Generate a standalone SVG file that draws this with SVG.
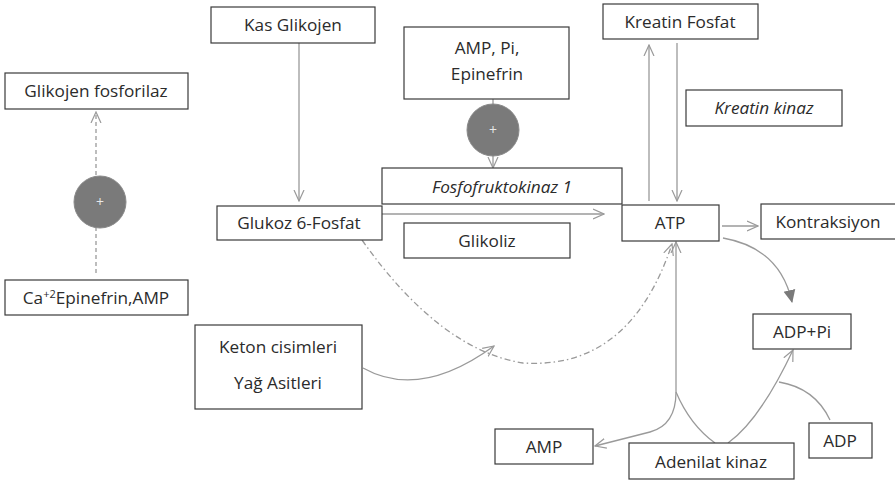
<svg xmlns="http://www.w3.org/2000/svg" width="895" height="483" viewBox="0 0 895 483">
<defs>
<style>
.box{fill:#fff;stroke:#3a3a3a;stroke-width:1.2}
.t{font-family:"Open Sans","Liberation Sans",sans-serif;font-size:17.2px;fill:#2b2b2b;text-anchor:middle}
.i{font-style:italic}
.ln{fill:none;stroke:#9a9a9a;stroke-width:1.3}
.dash{stroke-dasharray:4 3}
.dd{stroke-dasharray:6 3 1.5 3}
.circ{fill:#7a7a7a;stroke:#8a8a8a;stroke-width:1}
.plus{font-family:"Open Sans","Liberation Sans",sans-serif;font-size:14px;fill:#e8e8e8;text-anchor:middle}
</style>
<marker id="open" viewBox="0 0 12 12" refX="11" refY="6" markerWidth="12" markerHeight="12" markerUnits="userSpaceOnUse" orient="auto">
<path d="M0,1 L11,6 L0,11" fill="none" stroke="#9a9a9a" stroke-width="1.2"/>
</marker>
<marker id="fill" viewBox="0 0 12 12" refX="11" refY="6" markerWidth="13" markerHeight="13" markerUnits="userSpaceOnUse" orient="auto">
<path d="M0,0.5 L12,6 L0,11.5 Z" fill="#7a7a7a"/>
</marker>
</defs>

<g id="connectors">
<path class="ln dash" d="M96,273 L96,112" marker-end="url(#open)"/>
<path class="ln" d="M299,43 L299,201" marker-end="url(#open)"/>
<path class="ln" d="M493,99 L493,168" marker-end="url(#open)"/>
<path class="ln" d="M382,214 L604,214" marker-end="url(#open)"/>
<path class="ln" d="M649,201 L649,45" marker-end="url(#open)"/>
<path class="ln" d="M677,43 L677,201" marker-end="url(#open)"/>
<path class="ln" d="M722,226 L758,226" marker-end="url(#open)"/>
<path class="ln" d="M723,238 Q780,248 792,302" marker-end="url(#fill)"/>
<path class="ln dd" d="M362,240 Q440,350 523,363 Q630,370 672,244" marker-end="url(#open)"/>
<path class="ln" d="M363,368 Q420,400 494,346" marker-end="url(#open)"/>
<path class="ln" d="M676,392 L676,242" marker-end="url(#open)"/>
<path class="ln" d="M676,392 Q676,425 650,432 L595,446" marker-end="url(#open)"/>
<path class="ln" d="M676,392 Q690,425 715,443"/>
<path class="ln" d="M728,443 Q760,420 793,350" marker-end="url(#open)"/>
<path class="ln" d="M830,420 Q815,388 779,382"/>
</g>

<g id="glikojen-fosforilaz"><rect class="box" x="5" y="73" width="183" height="36"/><text class="t" x="96" y="97">Glikojen fosforilaz</text></g>
<g id="plus-left"><circle class="circ" cx="100" cy="202" r="26"/><text class="plus" x="100" y="207">+</text></g>
<g id="ca-epinefrin"><rect class="box" x="5" y="280" width="183" height="35"/><text class="t" x="96" y="304">Ca<tspan font-size="11" dy="-6">+2</tspan><tspan dy="6">Epinefrin,AMP</tspan></text></g>
<g id="kas-glikojen"><rect class="box" x="211" y="7" width="164" height="36"/><text class="t" x="293" y="31">Kas Glikojen</text></g>
<g id="amp-pi-epinefrin"><rect class="box" x="404" y="27" width="165" height="72"/><text class="t" x="487" y="54">AMP, Pi,</text><text class="t" x="487" y="80">Epinefrin</text></g>
<g id="plus-mid"><circle class="circ" cx="493" cy="130" r="26"/><text class="plus" x="493" y="135">+</text></g>
<g id="fosfofruktokinaz"><rect class="box" x="382" y="168" width="240" height="36"/><text class="t i" x="502" y="193">Fosfofruktokinaz 1</text></g>
<g id="glukoz"><rect class="box" x="217" y="206" width="165" height="34"/><text class="t" x="299" y="229">Glukoz 6-Fosfat</text></g>
<g id="glikoliz"><rect class="box" x="404" y="223" width="166" height="35"/><text class="t" x="487" y="247">Glikoliz</text></g>
<g id="atp"><rect class="box" x="622" y="205" width="97" height="36"/><text class="t" x="670" y="229">ATP</text></g>
<g id="kontraksiyon"><rect class="box" x="761" y="204" width="140" height="35"/><text class="t" x="828" y="228">Kontraksiyon</text></g>
<g id="kreatin-fosfat"><rect class="box" x="603" y="4" width="155" height="35"/><text class="t" x="680" y="28">Kreatin Fosfat</text></g>
<g id="kreatin-kinaz"><rect class="box" x="686" y="90" width="156" height="36"/><text class="t i" x="764" y="114">Kreatin kinaz</text></g>
<g id="keton"><rect class="box" x="195" y="325" width="167" height="84"/><text class="t" x="278" y="353">Keton cisimleri</text><text class="t" x="278" y="389">Yağ Asitleri</text></g>
<g id="adp-pi"><rect class="box" x="753" y="314" width="98" height="35"/><text class="t" x="802" y="338">ADP+Pi</text></g>
<g id="amp"><rect class="box" x="495" y="429" width="98" height="35"/><text class="t" x="544" y="453">AMP</text></g>
<g id="adenilat-kinaz"><rect class="box" x="629" y="443" width="165" height="36"/><text class="t" x="711" y="468">Adenilat kinaz</text></g>
<g id="adp"><rect class="box" x="809" y="423" width="63" height="35"/><text class="t" x="840" y="447">ADP</text></g>
</svg>
